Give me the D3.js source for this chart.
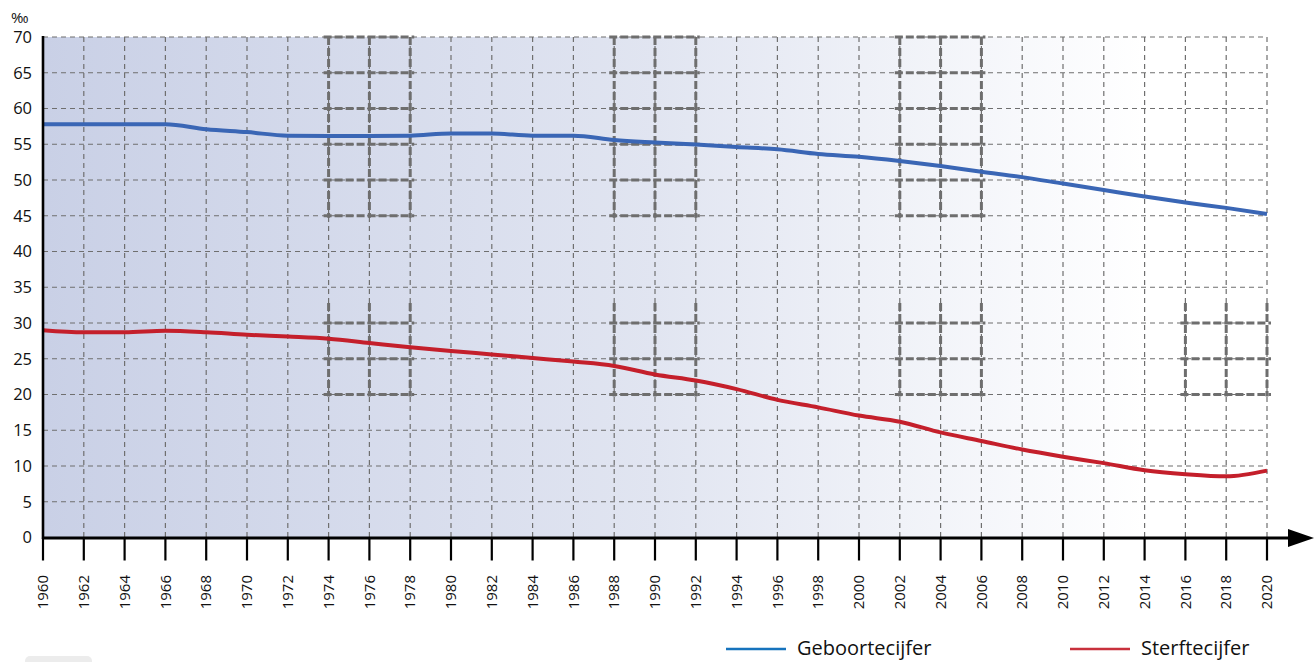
<!DOCTYPE html>
<html><head><meta charset="utf-8">
<script src="https://cdn.jsdelivr.net/npm/d3@7"></script>
<style>
html,body{margin:0;padding:0;background:#fff;}
text{font-family:"Open Sans","Noto Sans",sans-serif;fill:#111;}
</style></head>
<body>
<svg id="chart" width="1315" height="662"></svg>
<script>
const years = [1960,1962,1964,1966,1968,1970,1972,1974,1976,1978,1980,1982,1984,1986,1988,1990,1992,1994,1996,1998,2000,2002,2004,2006,2008,2010,2012,2014,2016,2018,2020];
const geboortecijfer = [57.8,57.8,57.8,57.8,57.1,56.7,56.2,56.15,56.15,56.2,56.5,56.5,56.2,56.2,55.6,55.25,54.95,54.6,54.3,53.65,53.25,52.65,51.95,51.15,50.4,49.5,48.6,47.7,46.85,46.1,45.25];
const sterftecijfer = [29.0,28.7,28.7,28.9,28.7,28.35,28.1,27.8,27.2,26.6,26.1,25.6,25.1,24.6,24.0,22.8,21.95,20.75,19.25,18.2,17.05,16.2,14.7,13.5,12.3,11.3,10.4,9.4,8.85,8.55,9.35];
const yTicks = [0,5,10,15,20,25,30,35,40,45,50,55,60,65,70];
const seriesNames = ["Geboortecijfer","Sterftecijfer"];
const lineColors = ["#3a66b5","#c41f2b"];
const legendColors = ["#1673bd","#c8303c"];
const unitLabel = "‰";

const svg = d3.select("#chart");
const L = 43, R = 1267, T = 37, B = 537.5;
const x = d3.scaleLinear().domain([1960,2020]).range([L,R]);
const y = d3.scaleLinear().domain([0,70]).range([B,T]);

// background gradient
const defs = svg.append("defs");
const grad = defs.append("linearGradient").attr("id","bg").attr("x1","0%").attr("x2","100%");
grad.append("stop").attr("offset","0%").attr("stop-color","#c9d0e6");
grad.append("stop").attr("offset","50%").attr("stop-color","#e1e5f1");
grad.append("stop").attr("offset","90%").attr("stop-color","#ffffff");
grad.append("stop").attr("offset","100%").attr("stop-color","#ffffff");
svg.append("rect").attr("x",L).attr("y",T).attr("width",R-L).attr("height",B-T).attr("fill","url(#bg)");

// grid
const g = svg.append("g");
const xGrid = years.filter(d=>d>1960);
g.selectAll(".vg").data(xGrid).join("line")
  .attr("x1",d=>x(d)).attr("x2",d=>x(d)).attr("y1",T).attr("y2",B)
  .attr("stroke","#6f6f6f").attr("stroke-width",1.2).attr("stroke-dasharray","5,4");
g.selectAll(".hg").data(yTicks.filter(d=>d>0)).join("line")
  .attr("x1",L).attr("x2",R).attr("y1",d=>y(d)).attr("y2",d=>y(d))
  .attr("stroke","#6f6f6f").attr("stroke-width",1.2).attr("stroke-dasharray","5,4");

// darker grid patches
const patches = [
  {x0:1974,x1:1978,v0:70,v1:45},{x0:1988,x1:1992,v0:70,v1:45},{x0:2002,x1:2006,v0:70,v1:45},
  {x0:1974,x1:1978,v0:30,v1:20},{x0:1988,x1:1992,v0:30,v1:20},{x0:2002,x1:2006,v0:30,v1:20},{x0:2016,x1:2020,v0:30,v1:20}
];
patches.forEach(p=>{
  const top = p.v0===70 ? y(70) : y(p.v0)-20;
  const bot = y(p.v1)+2;
  for(let yr=p.x0; yr<=p.x1; yr+=2){
    g.append("line").attr("x1",x(yr)).attr("x2",x(yr)).attr("y1",top).attr("y2",bot)
      .attr("stroke","#6e6e6e").attr("stroke-width",3).attr("stroke-dasharray","8,3");
  }
  for(let v=p.v1; v<=p.v0; v+=5){
    g.append("line").attr("x1",x(p.x0)-5).attr("x2",x(p.x1)+4).attr("y1",y(v)).attr("y2",y(v))
      .attr("stroke","#6e6e6e").attr("stroke-width",3).attr("stroke-dasharray","8,3");
  }
});

// lines
const seriesData = [geboortecijfer, sterftecijfer];
const line = d3.line().x((d,i)=>x(years[i])).y(d=>y(d)).curve(d3.curveMonotoneX);
seriesData.forEach((s,i)=>{
  svg.append("path").attr("d",line(s)).attr("fill","none")
    .attr("stroke",lineColors[i]).attr("stroke-width",4).attr("stroke-linejoin","round");
});

// axes
svg.append("line").attr("x1",L).attr("x2",L).attr("y1",T-1).attr("y2",B+1.5)
  .attr("stroke","#000").attr("stroke-width",2.6);
svg.append("line").attr("x1",L-1).attr("x2",1292).attr("y1",B+0.5).attr("y2",B+0.5)
  .attr("stroke","#000").attr("stroke-width",3);
svg.append("path").attr("d",`M1288,${B-8.5} L1314,${B+0.5} L1288,${B+9.5} Z`).attr("fill","#000");

// x ticks
svg.selectAll(".xt").data(years).join("line")
  .attr("x1",d=>x(d)).attr("x2",d=>x(d)).attr("y1",B).attr("y2",B+23)
  .attr("stroke","#000").attr("stroke-width",2.2);
svg.selectAll(".xl").data(years).join("text")
  .attr("transform",d=>`translate(${x(d)},575) rotate(-90)`)
  .attr("text-anchor","end").attr("dy","0.35em")
  .style("font-size","15px").text(d=>d);

// y labels
svg.selectAll(".yl").data(yTicks).join("text")
  .attr("x",32).attr("y",d=>y(d)).attr("dy","0.35em").attr("text-anchor","end")
  .style("font-size","16.5px").text(d=>d);
svg.append("text").attr("x",11).attr("y",23).style("font-size","15px").text(unitLabel);

// legend
const legX = [726,1070];
seriesNames.forEach((n,i)=>{
  svg.append("line").attr("x1",legX[i]).attr("x2",legX[i]+60).attr("y1",649).attr("y2",649)
    .attr("stroke",legendColors[i]).attr("stroke-width",2.5);
  svg.append("text").attr("x",legX[i]+71).attr("y",655).style("font-size","20px").text(n);
});

// faint tab bottom-left
svg.append("rect").attr("x",25).attr("y",656).attr("width",67).attr("height",12).attr("rx",5).attr("fill","#ececec");
</script>
</body></html>
